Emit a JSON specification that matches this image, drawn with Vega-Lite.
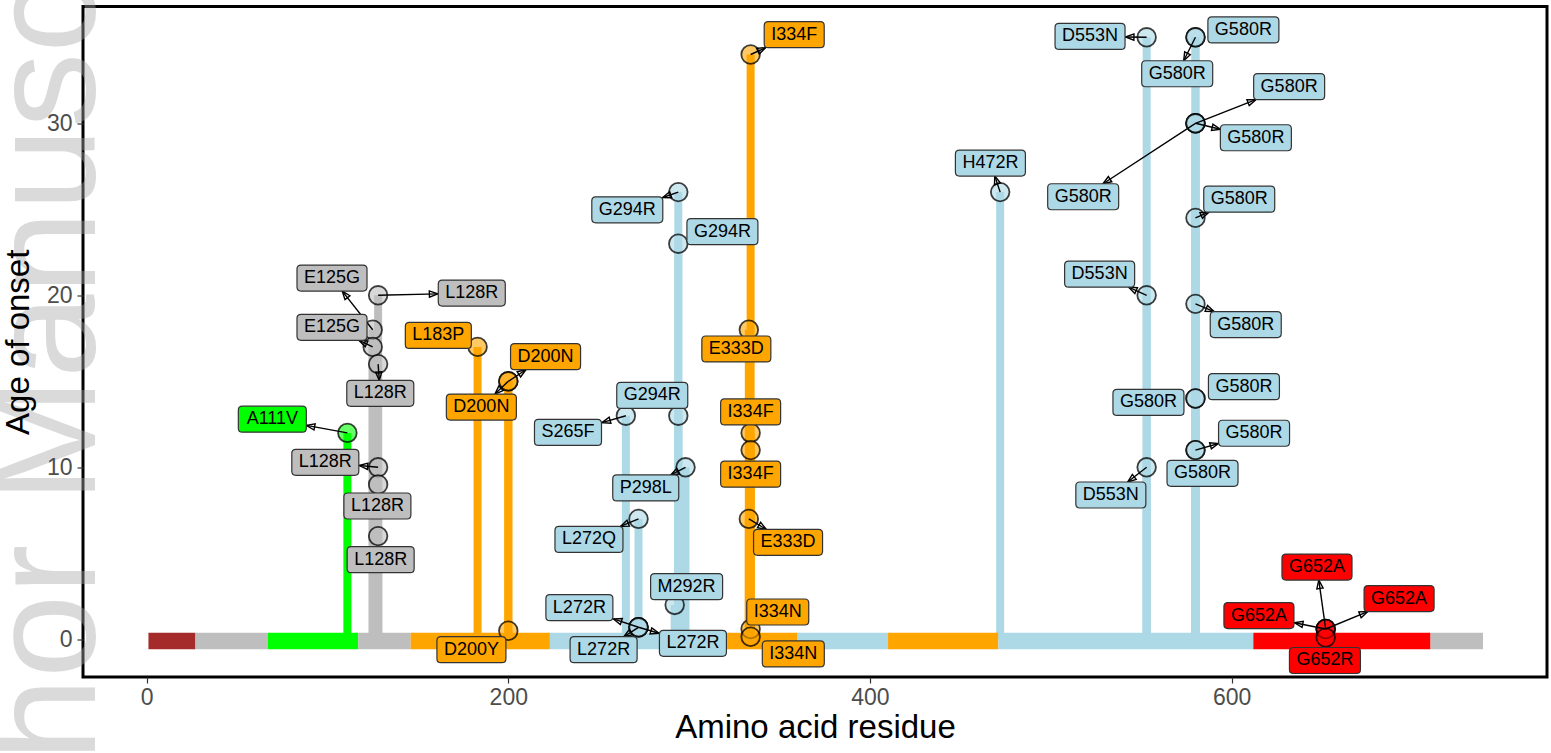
{
  "$schema": "https://vega.github.io/schema/vega-lite/v6.json",
  "width": 1464,
  "height": 670.5,
  "autosize": {"type": "none"},
  "padding": {"left": 83, "top": 6.5, "right": 4, "bottom": 76},
  "config": {
    "view": {"stroke": "black", "strokeWidth": 3},
    "font": "Liberation Sans"
  },
  "datasets": {
    "domains": [
      {"start": 1, "end": 27, "domain": "d1"},
      {"start": 27, "end": 67, "domain": "d2"},
      {"start": 67, "end": 117, "domain": "d3"},
      {"start": 117, "end": 146, "domain": "d2"},
      {"start": 146, "end": 223, "domain": "d5"},
      {"start": 223, "end": 321, "domain": "d4"},
      {"start": 321, "end": 360, "domain": "d5"},
      {"start": 360, "end": 410, "domain": "d4"},
      {"start": 410, "end": 471, "domain": "d5"},
      {"start": 471, "end": 612, "domain": "d4"},
      {"start": 612, "end": 710, "domain": "d6"},
      {"start": 710, "end": 739, "domain": "d2"}
    ],
    "muts": [
      {"mutation": "A111V", "pos": 111, "age": 12, "domain": "d3", "lx": 69.5, "ly": 12.8},
      {"mutation": "L128R", "pos": 128, "age": 20, "domain": "d2", "lx": 179.8, "ly": 20.13},
      {"mutation": "E125G", "pos": 125, "age": 18, "domain": "d2", "lx": 102.5, "ly": 21.0},
      {"mutation": "E125G", "pos": 125, "age": 17, "domain": "d2", "lx": 102.5, "ly": 18.14},
      {"mutation": "L128R", "pos": 128, "age": 16, "domain": "d2", "lx": 129.2, "ly": 14.3},
      {"mutation": "L128R", "pos": 128, "age": 10, "domain": "d2", "lx": 98.8, "ly": 10.29},
      {"mutation": "L128R", "pos": 128, "age": 9, "domain": "d2", "lx": 127.6, "ly": 7.75},
      {"mutation": "L128R", "pos": 128, "age": 6, "domain": "d2", "lx": 129.4, "ly": 4.63},
      {"mutation": "L183P", "pos": 183, "age": 17, "domain": "d5", "lx": 161.3, "ly": 17.67},
      {"mutation": "D200N", "pos": 200, "age": 15, "domain": "d5", "lx": 220.6, "ly": 16.43},
      {"mutation": "D200N", "pos": 200, "age": 15, "domain": "d5", "lx": 185.1, "ly": 13.5},
      {"mutation": "D200Y", "pos": 200, "age": 0.5, "domain": "d5", "lx": 179.6, "ly": -0.6},
      {"mutation": "S265F", "pos": 265, "age": 13, "domain": "d4", "lx": 233, "ly": 12.03},
      {"mutation": "L272Q", "pos": 272, "age": 7, "domain": "d4", "lx": 244.6, "ly": 5.81},
      {"mutation": "L272R", "pos": 272, "age": 0.7, "domain": "d4", "lx": 239.3, "ly": 1.84},
      {"mutation": "L272R", "pos": 272, "age": 0.7, "domain": "d4", "lx": 252.7, "ly": -0.6},
      {"mutation": "L272R", "pos": 272, "age": 0.7, "domain": "d4", "lx": 302.1, "ly": -0.23},
      {"mutation": "M292R", "pos": 292, "age": 2, "domain": "d4", "lx": 298.6, "ly": 3.06},
      {"mutation": "G294R", "pos": 294, "age": 26, "domain": "d4", "lx": 265.8, "ly": 24.97},
      {"mutation": "G294R", "pos": 294, "age": 23, "domain": "d4", "lx": 318.4, "ly": 23.7},
      {"mutation": "G294R", "pos": 294, "age": 13, "domain": "d4", "lx": 279.6, "ly": 14.18},
      {"mutation": "P298L", "pos": 298, "age": 10, "domain": "d4", "lx": 276, "ly": 8.8},
      {"mutation": "E333D", "pos": 333, "age": 18, "domain": "d5", "lx": 326.1, "ly": 16.88},
      {"mutation": "E333D", "pos": 333, "age": 7, "domain": "d5", "lx": 354.7, "ly": 5.64},
      {"mutation": "I334F", "pos": 334, "age": 34, "domain": "d5", "lx": 358.1, "ly": 35.15},
      {"mutation": "I334F", "pos": 334, "age": 12, "domain": "d5", "lx": 334, "ly": 13.22},
      {"mutation": "I334F", "pos": 334, "age": 11, "domain": "d5", "lx": 334, "ly": 9.6},
      {"mutation": "I334N", "pos": 334, "age": 0.6, "domain": "d5", "lx": 349, "ly": 1.59},
      {"mutation": "I334N", "pos": 334, "age": 0.15, "domain": "d5", "lx": 357.6, "ly": -0.85},
      {"mutation": "H472R", "pos": 472, "age": 26, "domain": "d4", "lx": 466.6, "ly": 27.69},
      {"mutation": "D553N", "pos": 553, "age": 35, "domain": "d4", "lx": 521.7, "ly": 35.05},
      {"mutation": "D553N", "pos": 553, "age": 20, "domain": "d4", "lx": 527, "ly": 21.23},
      {"mutation": "D553N", "pos": 553, "age": 10, "domain": "d4", "lx": 533.2, "ly": 8.39},
      {"mutation": "G580R", "pos": 580, "age": 35, "domain": "d4", "lx": 606.5, "ly": 35.43},
      {"mutation": "G580R", "pos": 580, "age": 35, "domain": "d4", "lx": 569.9, "ly": 32.88},
      {"mutation": "G580R", "pos": 580, "age": 30, "domain": "d4", "lx": 631.8, "ly": 32.13},
      {"mutation": "G580R", "pos": 580, "age": 30, "domain": "d4", "lx": 613.4, "ly": 29.16},
      {"mutation": "G580R", "pos": 580, "age": 30, "domain": "d4", "lx": 517.9, "ly": 25.73},
      {"mutation": "G580R", "pos": 580, "age": 24.5, "domain": "d4", "lx": 604.2, "ly": 25.59},
      {"mutation": "G580R", "pos": 580, "age": 19.5, "domain": "d4", "lx": 607.8, "ly": 18.3},
      {"mutation": "G580R", "pos": 580, "age": 14, "domain": "d4", "lx": 606.8, "ly": 14.69},
      {"mutation": "G580R", "pos": 580, "age": 14, "domain": "d4", "lx": 554, "ly": 13.77},
      {"mutation": "G580R", "pos": 580, "age": 11, "domain": "d4", "lx": 612.4, "ly": 11.98},
      {"mutation": "G580R", "pos": 580, "age": 11, "domain": "d4", "lx": 583.9, "ly": 9.65},
      {"mutation": "G652A", "pos": 652, "age": 0.6, "domain": "d6", "lx": 647.2, "ly": 4.2},
      {"mutation": "G652A", "pos": 652, "age": 0.6, "domain": "d6", "lx": 692.6, "ly": 2.37},
      {"mutation": "G652A", "pos": 652, "age": 0.6, "domain": "d6", "lx": 615.1, "ly": 1.38},
      {"mutation": "G652R", "pos": 652, "age": 0.1, "domain": "d6", "lx": 651.6, "ly": -1.23}
    ]
  },
  "layer": [
    {
      "data": {"values": [{}]},
      "mark": {"type": "text", "text": "Author Manuscript", "angle": 270, "fontSize": 150, "font": "Liberation Sans", "align": "center", "baseline": "alphabetic", "color": "#A8A8A8", "opacity": 0.42},
      "encoding": {
        "x": {"datum": -28.5, "type": "quantitative", "scale": {"domain": [-35.2, 774.4], "nice": false, "zero": false}},
        "y": {"datum": 15.2, "type": "quantitative", "scale": {"domain": [-2.19, 36.79], "nice": false, "zero": false}}
      }
    },
    {
      "data": {"name": "muts"},
      "mark": {"type": "rule", "strokeWidth": 8, "strokeCap": "butt"},
      "encoding": {
        "x": {"field": "pos", "type": "quantitative", "scale": {"domain": [-35.2, 774.4], "nice": false, "zero": false},
          "axis": {"values": [0, 100, 200, 300, 400, 500, 600, 700], "labelExpr": "datum.value % 200 === 0 ? datum.label : ''",
            "tickOpacity": {"condition": {"test": "datum.value % 200 === 0", "value": 1}, "value": 0},
            "gridWidth": {"condition": {"test": "datum.value % 200 === 0", "value": 1.4}, "value": 0.7},
            "gridColor": "#EBEBEB", "domain": false, "tickColor": "#333333", "tickSize": 6, "tickWidth": 1.2,
            "labelColor": "#4D4D4D", "labelFontSize": 23, "labelFont": "Liberation Sans", "labelPadding": 3, "labelFlush": false, "labelOverlap": false,
            "title": "Amino acid residue", "titleFontSize": 33, "titleFont": "Liberation Sans", "titleFontWeight": "normal", "titleColor": "black", "titlePadding": 2}},
        "y": {"field": "age", "type": "quantitative", "scale": {"domain": [-2.19, 36.79], "nice": false, "zero": false},
          "axis": {"values": [0, 5, 10, 15, 20, 25, 30, 35], "labelExpr": "datum.value % 10 === 0 ? datum.label : ''",
            "tickOpacity": {"condition": {"test": "datum.value % 10 === 0", "value": 1}, "value": 0},
            "gridWidth": {"condition": {"test": "datum.value % 10 === 0", "value": 1.4}, "value": 0.7},
            "gridColor": "#EBEBEB", "domain": false, "tickColor": "#333333", "tickSize": 6, "tickWidth": 1.2,
            "labelColor": "#4D4D4D", "labelFontSize": 23, "labelFont": "Liberation Sans", "labelPadding": 5, "labelFlush": false, "labelOverlap": false,
            "zindex": 1,
            "title": "Age of onset", "titleFontSize": 33, "titleFont": "Liberation Sans", "titleFontWeight": "normal", "titleColor": "black", "titlePadding": 11}},
        "y2": {"datum": 0},
        "color": {"field": "domain", "type": "nominal", "legend": null,
          "scale": {"domain": ["d1", "d2", "d3", "d4", "d5", "d6"], "range": ["#A52A2A", "#BEBEBE", "#00FF00", "#ADD8E6", "#FFA500", "#FF0000"]}}
      }
    },
    {
      "data": {"name": "domains"},
      "mark": {"type": "rect"},
      "encoding": {
        "x": {"field": "start", "type": "quantitative"},
        "x2": {"field": "end"},
        "y": {"datum": -0.58, "type": "quantitative"},
        "y2": {"datum": 0.38},
        "color": {"field": "domain", "type": "nominal", "legend": null,
          "scale": {"domain": ["d1", "d2", "d3", "d4", "d5", "d6"], "range": ["#A52A2A", "#BEBEBE", "#00FF00", "#ADD8E6", "#FFA500", "#FF0000"]}}
      }
    },
    {
      "data": {"name": "muts"},
      "mark": {"type": "point", "shape": "circle", "size": 346, "filled": true, "opacity": 1, "fillOpacity": 0.6, "stroke": "black", "strokeOpacity": 0.75, "strokeWidth": 1.8},
      "encoding": {
        "x": {"field": "pos", "type": "quantitative"},
        "y": {"field": "age", "type": "quantitative"},
        "fill": {"field": "domain", "type": "nominal", "legend": null,
          "scale": {"domain": ["d1", "d2", "d3", "d4", "d5", "d6"], "range": ["#A52A2A", "#BEBEBE", "#00FF00", "#ADD8E6", "#FFA500", "#FF0000"]}}
      }
    },
    {
      "data": {"name": "muts"},
      "transform": [
        {"calculate": "indexof(['I334F'], datum.mutation) >= 0 ? 30 : indexof(['I334N'], datum.mutation) >= 0 ? 31 : indexof(['L183P', 'P298L'], datum.mutation) >= 0 ? 33 : indexof(['L128R', 'S265F', 'L272R', 'A111V', 'L272Q', 'D200Y', 'E333D'], datum.mutation) >= 0 ? 34 : 35.5", "as": "hw"},
        {"calculate": "(datum.lx - datum.pos) * 1.8085", "as": "sx"},
        {"calculate": "(datum.ly - datum.age) * 17.2", "as": "sy"},
        {"calculate": "min(datum.hw / abs(datum.sx), 13 / abs(datum.sy))", "as": "t"},
        {"calculate": "(1 - datum.t) * sqrt(datum.sx * datum.sx + datum.sy * datum.sy)", "as": "seg"},
        {"filter": "datum.seg > 14"},
        {"calculate": "datum.lx - datum.t * (datum.lx - datum.pos)", "as": "ex"},
        {"calculate": "datum.ly - datum.t * (datum.ly - datum.age)", "as": "ey"},
        {"calculate": "atan2(datum.sx, datum.sy) * 180 / PI", "as": "ang"}
      ],
      "layer": [
        {
          "mark": {"type": "rule", "color": "black", "strokeWidth": 1.4},
          "encoding": {
            "x": {"field": "pos", "type": "quantitative"},
            "y": {"field": "age", "type": "quantitative"},
            "x2": {"field": "ex"},
            "y2": {"field": "ey"}
          }
        },
        {
          "mark": {"type": "point", "shape": "M0,0L0.6,1.6L-0.6,1.6Z", "size": 110, "filled": false, "opacity": 1, "stroke": "black", "strokeWidth": 1.4},
          "encoding": {
            "x": {"field": "ex", "type": "quantitative"},
            "y": {"field": "ey", "type": "quantitative"},
            "angle": {"field": "ang", "type": "quantitative", "scale": null}
          }
        }
      ]
    },
    {
      "data": {"name": "muts"},
      "mark": {"type": "point", "size": 576, "filled": true, "opacity": 1, "fillOpacity": 1, "stroke": "#333333", "strokeWidth": 1.2},
      "encoding": {
        "x": {"field": "lx", "type": "quantitative"},
        "y": {"field": "ly", "type": "quantitative"},
        "shape": {"field": "mutation", "type": "nominal", "legend": null,
          "scale": {
            "domain": ["A111V", "E125G", "L128R", "L183P", "D200N", "D200Y", "S265F", "L272Q", "L272R", "M292R", "G294R", "P298L", "E333D", "I334F", "I334N", "H472R", "D553N", "G580R", "G652A", "G652R"],
            "range": [
              "M-2.5,-1.083H2.5Q2.833,-1.083,2.833,-0.75V0.75Q2.833,1.083,2.5,1.083H-2.5Q-2.833,1.083,-2.833,0.75V-0.75Q-2.833,-1.083,-2.5,-1.083Z",
              "M-2.583,-1.083H2.583Q2.917,-1.083,2.917,-0.75V0.75Q2.917,1.083,2.583,1.083H-2.583Q-2.917,1.083,-2.917,0.75V-0.75Q-2.917,-1.083,-2.583,-1.083Z",
              "M-2.458,-1.083H2.458Q2.792,-1.083,2.792,-0.75V0.75Q2.792,1.083,2.458,1.083H-2.458Q-2.792,1.083,-2.792,0.75V-0.75Q-2.792,-1.083,-2.458,-1.083Z",
              "M-2.417,-1.083H2.417Q2.75,-1.083,2.75,-0.75V0.75Q2.75,1.083,2.417,1.083H-2.417Q-2.75,1.083,-2.75,0.75V-0.75Q-2.75,-1.083,-2.417,-1.083Z",
              "M-2.583,-1.083H2.583Q2.917,-1.083,2.917,-0.75V0.75Q2.917,1.083,2.583,1.083H-2.583Q-2.917,1.083,-2.917,0.75V-0.75Q-2.917,-1.083,-2.583,-1.083Z",
              "M-2.542,-1.083H2.542Q2.875,-1.083,2.875,-0.75V0.75Q2.875,1.083,2.542,1.083H-2.542Q-2.875,1.083,-2.875,0.75V-0.75Q-2.875,-1.083,-2.542,-1.083Z",
              "M-2.458,-1.083H2.458Q2.792,-1.083,2.792,-0.75V0.75Q2.792,1.083,2.458,1.083H-2.458Q-2.792,1.083,-2.792,0.75V-0.75Q-2.792,-1.083,-2.458,-1.083Z",
              "M-2.5,-1.083H2.5Q2.833,-1.083,2.833,-0.75V0.75Q2.833,1.083,2.5,1.083H-2.5Q-2.833,1.083,-2.833,0.75V-0.75Q-2.833,-1.083,-2.5,-1.083Z",
              "M-2.458,-1.083H2.458Q2.792,-1.083,2.792,-0.75V0.75Q2.792,1.083,2.458,1.083H-2.458Q-2.792,1.083,-2.792,0.75V-0.75Q-2.792,-1.083,-2.458,-1.083Z",
              "M-2.667,-1.083H2.667Q3,-1.083,3,-0.75V0.75Q3,1.083,2.667,1.083H-2.667Q-3,1.083,-3,0.75V-0.75Q-3,-1.083,-2.667,-1.083Z",
              "M-2.625,-1.083H2.625Q2.958,-1.083,2.958,-0.75V0.75Q2.958,1.083,2.625,1.083H-2.625Q-2.958,1.083,-2.958,0.75V-0.75Q-2.958,-1.083,-2.625,-1.083Z",
              "M-2.417,-1.083H2.417Q2.75,-1.083,2.75,-0.75V0.75Q2.75,1.083,2.417,1.083H-2.417Q-2.75,1.083,-2.75,0.75V-0.75Q-2.75,-1.083,-2.417,-1.083Z",
              "M-2.542,-1.083H2.542Q2.875,-1.083,2.875,-0.75V0.75Q2.875,1.083,2.542,1.083H-2.542Q-2.875,1.083,-2.875,0.75V-0.75Q-2.875,-1.083,-2.542,-1.083Z",
              "M-2.167,-1.083H2.167Q2.5,-1.083,2.5,-0.75V0.75Q2.5,1.083,2.167,1.083H-2.167Q-2.5,1.083,-2.5,0.75V-0.75Q-2.5,-1.083,-2.167,-1.083Z",
              "M-2.25,-1.083H2.25Q2.583,-1.083,2.583,-0.75V0.75Q2.583,1.083,2.25,1.083H-2.25Q-2.583,1.083,-2.583,0.75V-0.75Q-2.583,-1.083,-2.25,-1.083Z",
              "M-2.583,-1.083H2.583Q2.917,-1.083,2.917,-0.75V0.75Q2.917,1.083,2.583,1.083H-2.583Q-2.917,1.083,-2.917,0.75V-0.75Q-2.917,-1.083,-2.583,-1.083Z",
              "M-2.583,-1.083H2.583Q2.917,-1.083,2.917,-0.75V0.75Q2.917,1.083,2.583,1.083H-2.583Q-2.917,1.083,-2.917,0.75V-0.75Q-2.917,-1.083,-2.583,-1.083Z",
              "M-2.625,-1.083H2.625Q2.958,-1.083,2.958,-0.75V0.75Q2.958,1.083,2.625,1.083H-2.625Q-2.958,1.083,-2.958,0.75V-0.75Q-2.958,-1.083,-2.625,-1.083Z",
              "M-2.583,-1.083H2.583Q2.917,-1.083,2.917,-0.75V0.75Q2.917,1.083,2.583,1.083H-2.583Q-2.917,1.083,-2.917,0.75V-0.75Q-2.917,-1.083,-2.583,-1.083Z",
              "M-2.625,-1.083H2.625Q2.958,-1.083,2.958,-0.75V0.75Q2.958,1.083,2.625,1.083H-2.625Q-2.958,1.083,-2.958,0.75V-0.75Q-2.958,-1.083,-2.625,-1.083Z"
            ]
          }},
        "fill": {"field": "domain", "type": "nominal", "legend": null,
          "scale": {"domain": ["d1", "d2", "d3", "d4", "d5", "d6"], "range": ["#A52A2A", "#BEBEBE", "#00FF00", "#ADD8E6", "#FFA500", "#FF0000"]}}
      }
    },
    {
      "data": {"name": "muts"},
      "mark": {"type": "text", "fontSize": 18, "font": "Liberation Sans", "color": "black", "align": "center", "baseline": "middle"},
      "encoding": {
        "x": {"field": "lx", "type": "quantitative"},
        "y": {"field": "ly", "type": "quantitative"},
        "text": {"field": "mutation", "type": "nominal"}
      }
    }
  ]
}
